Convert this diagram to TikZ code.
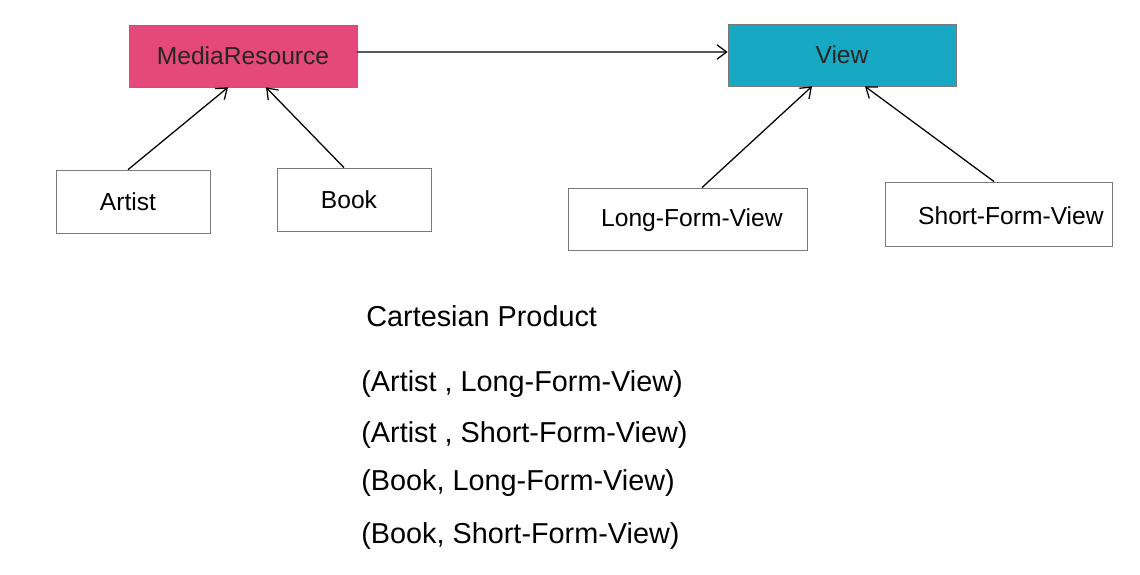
\documentclass[tikz,border=0pt]{standalone}
\usepackage{fontspec}
\setmainfont{Liberation Sans}
\usetikzlibrary{arrows.meta}
\definecolor{mediapink}{HTML}{E5487B}
\definecolor{viewteal}{HTML}{17A9C3}
\definecolor{boxgray}{HTML}{7A7A7A}

\begin{document}
\begin{tikzpicture}[x=0.25mm,y=-0.25mm,line width=.5pt,
  box/.style={draw=boxgray,rectangle,inner sep=0pt,font=\fontsize{17.5}{20}\selectfont},
  boxlabel/.style={inner sep=0pt,font=\fontsize{17.5}{20}\selectfont},
  link/.style={draw=black,line width=.9pt,-{Straight Barb[length=2.4mm,width=3.6mm]}},
  pair/.style={anchor=west,inner sep=0pt,font=\fontsize{20.5}{24}\selectfont}]
\path[use as bounding box] (0,0) rectangle (1140,575);
\node[box,fill=mediapink,minimum width=57mm,minimum height=15.5mm,text=black!85] (media) at (243,56) {MediaResource};
\node[box,fill=viewteal,minimum width=57mm,minimum height=15.5mm,text=black!85] (view) at (842,55) {View};
\node[box,minimum width=38.5mm,minimum height=15.75mm,
  label={[boxlabel,xshift=-1.25mm]center:Artist}] (artist) at (133,201.5) {};
\node[box,minimum width=38.5mm,minimum height=15.75mm,
  label={[boxlabel,xshift=-1.25mm]center:Book}] (book) at (354,199.5) {};
\node[box,minimum width=59.75mm,minimum height=15.5mm,
  label={[boxlabel,xshift=1.1mm,yshift=-.25mm]center:Long-Form-View}] (longview) at (687.5,219) {};
\node[box,minimum width=56.75mm,minimum height=16mm,
  label={[boxlabel,xshift=3.1mm,yshift=-.4mm]center:Short-Form-View}] (shortview) at (998.5,214) {};
\draw[link] ([xshift=-1.25mm]artist.north) -- ([xshift=-3.75mm]media.south);
\draw[link] ([xshift=-2.5mm]book.north) -- ([xshift=5.75mm]media.south);
\draw[link] ([yshift=1mm]media.east) -- ([yshift=.75mm]view.west);
\draw[link] ([xshift=3.6mm]longview.north) -- ([xshift=-7.5mm]view.south);
\draw[link] ([xshift=-1.1mm]shortview.north) -- ([xshift=5.75mm]view.south);
\node[pair] (title) at (366,316) {Cartesian Product};
\node[pair] (pairA) at (361,384) {(Artist , Long-Form-View)};
\node[pair] (pairB) at (361,435) {(Artist , Short-Form-View)};
\node[pair] (pairC) at (361,483) {(Book, Long-Form-View)};
\node[pair] (pairD) at (361,536) {(Book, Short-Form-View)};
\end{tikzpicture}
\end{document}
